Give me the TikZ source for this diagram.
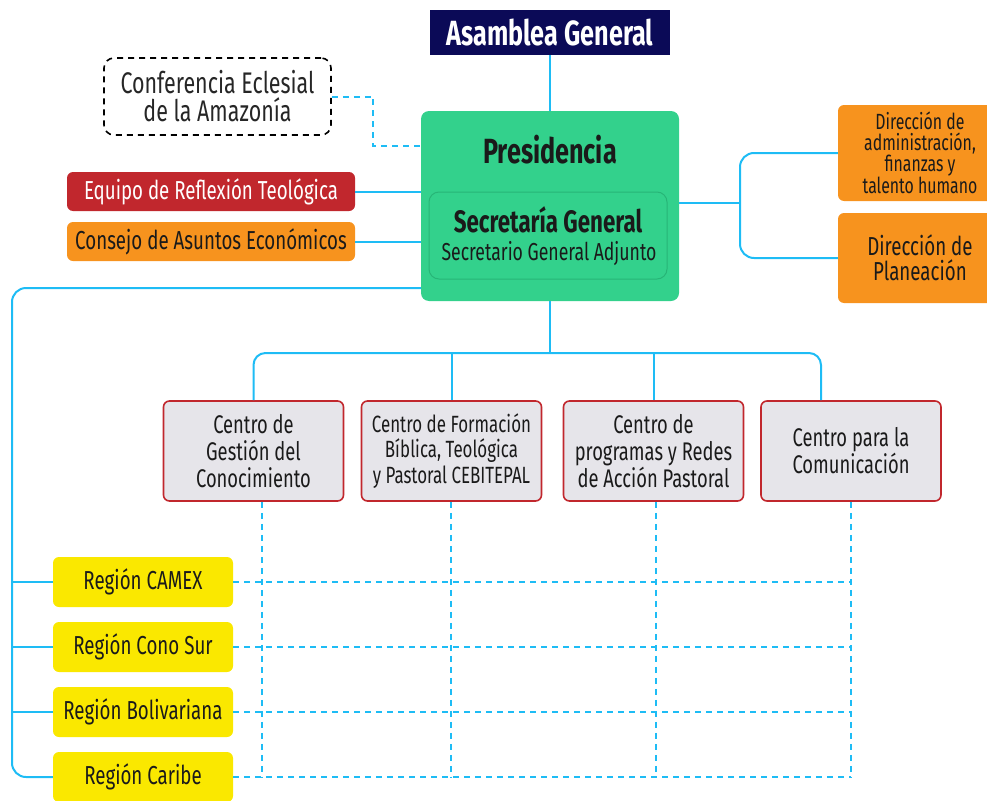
\documentclass[tikz,border=0pt]{standalone}
\usepackage{fontspec}
\setmainfont{Fira Sans}[FakeStretch=0.72]
\definecolor{navy}{HTML}{0B0A57}
\definecolor{pgreen}{HTML}{33D18C}
\definecolor{pgreenb}{HTML}{27B577}
\definecolor{ered}{HTML}{C1272D}
\definecolor{eorange}{HTML}{F7931E}
\definecolor{cgray}{HTML}{E6E5EA}
\definecolor{ryellow}{HTML}{FAE800}
\definecolor{lblue}{HTML}{1EBCF5}
\definecolor{dtext}{HTML}{1A1A1A}
\tikzset{
  conn/.style={draw=lblue, line width=2pt},
  dconn/.style={draw=lblue, line width=2pt, dash pattern=on 6pt off 5pt},
  box/.style={rounded corners=6pt, inner sep=0pt, align=center, text=dtext},
  centro/.style={box, fill=cgray, draw=ered, line width=1.6pt, minimum width=180pt, minimum height=100pt, font=\fontsize{25.5}{27}\selectfont},
  region/.style={box, fill=ryellow, minimum width=180pt, minimum height=50pt, font=\fontsize{26}{28}\selectfont},
}
\begin{document}
\begin{tikzpicture}[x=1pt,y=-1pt]
\useasboundingbox (0,0) rectangle (987,800);
\clip (0,0) rectangle (987,800);
% helper coordinates
\coordinate (y146) at (0,146);
\coordinate (y203) at (0,203);
\coordinate (y288) at (0,288);
\coordinate (yb) at (0,353);
\coordinate (lx) at (12,0);
\coordinate (xr) at (740,0);
\coordinate (xcea) at (373,0);
\coordinate (x821) at (821,0);
\coordinate (vx1) at (262,0);
\coordinate (vx2) at (451,0);
\coordinate (vx3) at (656,0);
\coordinate (vx4) at (851,0);
% nodes
\node[fill=navy, text=white, minimum width=240pt, minimum height=45pt, inner sep=0pt, font=\fontsize{35}{36}\selectfont\bfseries] (ag) at (550,32.5) {Asamblea General};
\node[fill=pgreen, rounded corners=8pt, minimum width=258pt, minimum height=190pt, inner sep=0pt] (pres) at (550,206) {};
\node[text=dtext, font=\fontsize{35}{36}\selectfont\bfseries, inner sep=0pt] (prest) at (550,150) {Presidencia};
\node[draw=pgreenb, line width=1pt, rounded corners=10pt, minimum width=238pt, minimum height=87pt, inner sep=0pt] (sg) at (548,235.5) {};
\node[text=dtext, inner sep=0pt, font=\fontsize{31}{32}\selectfont\bfseries] (sgt) at (548,220) {Secretaría General};
\node[text=dtext, inner sep=0pt, font=\fontsize{24.5}{26}\selectfont] (sga) at (549,254) {Secretario General Adjunto};
\node[box, draw=black, line width=1.6pt, dash pattern=on 6pt off 5pt, rounded corners=10pt, minimum width=227pt, minimum height=77pt, text=black!85, font=\fontsize{29.8}{28}\selectfont] (cea) at (217.5,96.5) {Conferencia Eclesial\\de la Amazonía};
\node[box, fill=ered, text=white, minimum width=288pt, minimum height=39pt, font=\fontsize{26}{28}\selectfont] (ert) at (211,191.5) {Equipo de Reflexión Teológica};
\node[box, fill=eorange, minimum width=288pt, minimum height=39pt, font=\fontsize{26}{28}\selectfont] (cae) at (211,241.5) {Consejo de Asuntos Económicos};
\node[box, fill=eorange, minimum width=164pt, minimum height=96pt, font=\fontsize{22}{21}\selectfont] (dafth) at (920,153) {Dirección de\\administración,\\finanzas y\\talento humano};
\node[box, fill=eorange, minimum width=164pt, minimum height=90pt, font=\fontsize{26}{25}\selectfont] (dp) at (920,258) {Dirección de\\Planeación};
\node[centro] (c1) at (253.5,451) {Centro de\\Gestión del\\Conocimiento};
\node[centro, font=\fontsize{23.5}{25.5}\selectfont] (c2) at (451.5,451) {Centro de Formación\\Bíblica, Teológica\\y Pastoral CEBITEPAL};
\node[centro] (c3) at (653.5,451) {Centro de\\programas y Redes\\de Acción Pastoral};
\node[centro] (c4) at (851,451) {Centro para la\\Comunicación};
\node[region] (r1) at (143,582) {Región CAMEX};
\node[region] (r2) at (143,647) {Región Cono Sur};
\node[region] (r3) at (143,712) {Región Bolivariana};
\node[region] (r4) at (143,777) {Región Caribe};
% connectors
\draw[conn] (ag) -- (pres);
\draw[dconn] (cea.east) -- (xcea |- cea.east) -- (xcea |- y146) -- (pres.west |- y146);
\draw[conn] (ert.east) -- (ert.east -| pres.west);
\draw[conn] (cae.east) -- (cae.east -| pres.west);
\draw[conn, rounded corners=14pt] (pres.west |- y288) -- (lx |- y288) -- (lx |- r4.west) -- (r4.west);
\draw[conn] (lx |- r1.west) -- (r1.west);
\draw[conn] (lx |- r2.west) -- (r2.west);
\draw[conn] (lx |- r3.west) -- (r3.west);
\draw[conn] (pres.east |- y203) -- (xr |- y203);
\draw[conn, rounded corners=14pt] (dafth.west) -- (xr |- dafth.west) -- (xr |- dp.west) -- (dp.west);
\draw[conn] (pres.south) -- (pres.south |- yb);
\draw[conn, rounded corners=12pt] (c1.north) -- (c1.north |- yb) -- (x821 |- yb) -- (x821 |- c4.north);
\draw[conn] (c2.north) -- (c2.north |- yb);
\draw[conn] (c3.north) -- (c3.north |- yb);
% dashed grid
\draw[dconn] (vx1 |- c1.south) -- (vx1 |- r4.east);
\draw[dconn] (vx2 |- c2.south) -- (vx2 |- r4.east);
\draw[dconn] (vx3 |- c3.south) -- (vx3 |- r4.east);
\draw[dconn] (vx4 |- c4.south) -- (vx4 |- r4.east);
\draw[dconn] (r1.east) -- (vx4 |- r1.east);
\draw[dconn] (r2.east) -- (vx4 |- r2.east);
\draw[dconn] (r3.east) -- (vx4 |- r3.east);
\draw[dconn] (r4.east) -- (vx4 |- r4.east);
\end{tikzpicture}
\end{document}
